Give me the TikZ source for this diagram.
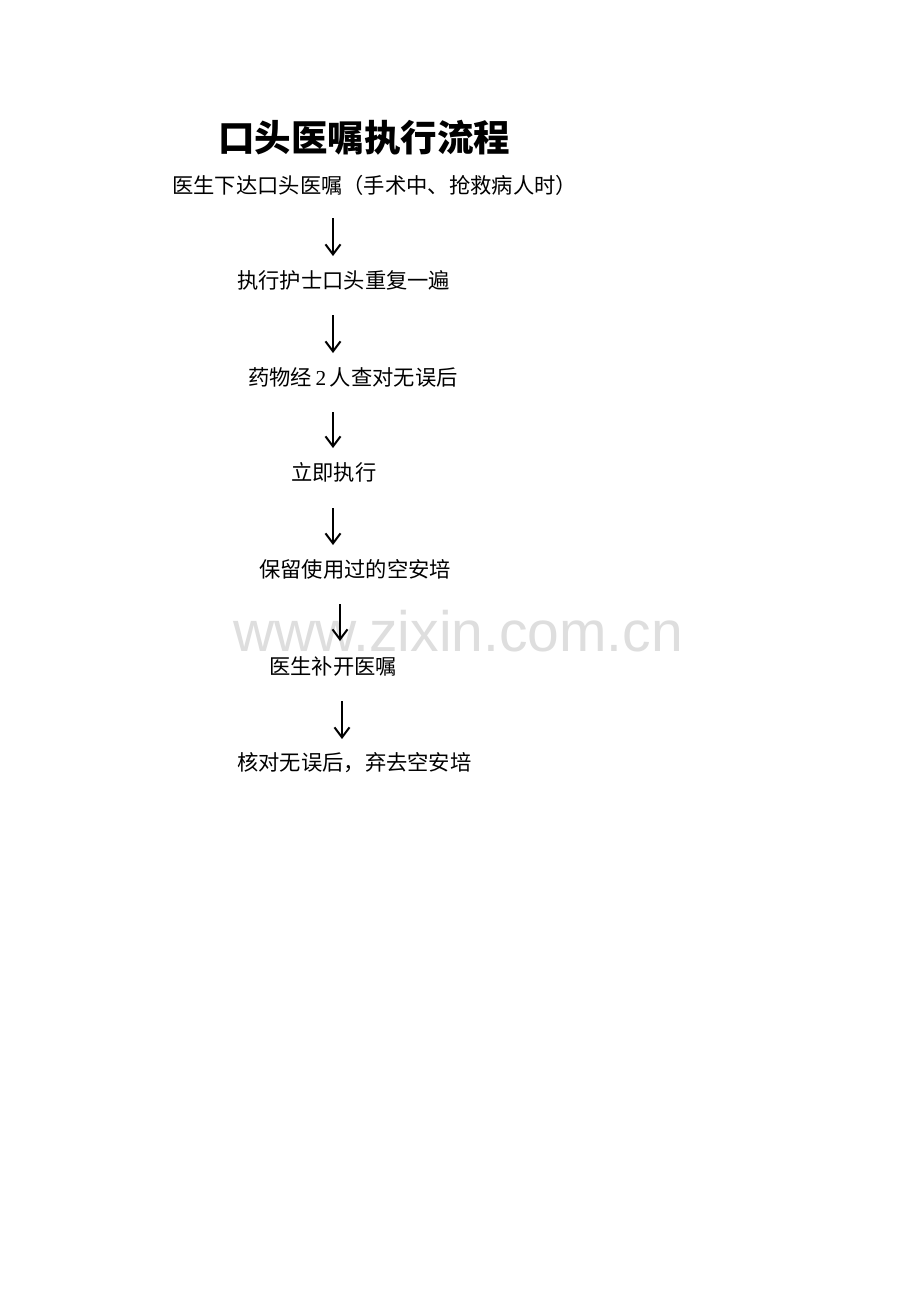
\documentclass[tikz,border=0pt]{standalone}
\usepackage{fontspec}
\setmainfont{Liberation Serif}
\newfontfamily\cjk{Noto Sans CJK SC}
\newfontfamily\wmfont{Liberation Sans}
\usetikzlibrary{arrows.meta}
\tikzset{
  steptext/.style={anchor=base west, inner sep=0pt, font=\cjk\fontsize{21.3pt}{24pt}\selectfont},
  titletext/.style={anchor=base west, inner sep=0pt, font=\cjk\bfseries\fontsize{36.5pt}{40pt}\selectfont},
  downarrow/.style={line width=2pt, -{Straight Barb[length=10pt,width=15pt,line width=2pt]}},
  watermark/.style={anchor=base west, inner sep=0pt, text depth=0pt, text=black!13, font=\wmfont\fontsize{57pt}{60pt}\selectfont}
}
\begin{document}
\begin{tikzpicture}[x=1pt,y=-1pt]
\useasboundingbox (0,0) rectangle (920,1302);
\fill[white] (0,0) rectangle (920,1302);
\node[watermark] (wm) at (233,651) {www.zixin.com.cn};
\node[titletext] (title) at (218,151) {口头医嘱执行流程};
\node[steptext] (s1) at (172,193) {医生下达口头医嘱（手术中、抢救病人时）};
\node[steptext] (s2) at (237,288) {执行护士口头重复一遍};
\node[steptext] (s3) at (248,385) {药物经{\rmfamily\,2\,}人查对无误后};
\node[steptext] (s4) at (291,480) {立即执行};
\node[steptext] (s5) at (259,577) {保留使用过的空安培};
\node[steptext] (s6) at (269,674) {医生补开医嘱};
\node[steptext] (s7) at (237,770) {核对无误后，弃去空安培};
\coordinate (a1s) at (333,218); \coordinate (a1e) at (333,256);
\coordinate (a2s) at (333,315); \coordinate (a2e) at (333,353);
\coordinate (a3s) at (333,412); \coordinate (a3e) at (333,448);
\coordinate (a4s) at (333,508); \coordinate (a4e) at (333,545);
\coordinate (a5s) at (340,604); \coordinate (a5e) at (340,641);
\coordinate (a6s) at (342,701); \coordinate (a6e) at (342,739);
\draw[downarrow] (a1s) -- (a1e);
\draw[downarrow] (a2s) -- (a2e);
\draw[downarrow] (a3s) -- (a3e);
\draw[downarrow] (a4s) -- (a4e);
\draw[downarrow] (a5s) -- (a5e);
\draw[downarrow] (a6s) -- (a6e);
\end{tikzpicture}
\end{document}
